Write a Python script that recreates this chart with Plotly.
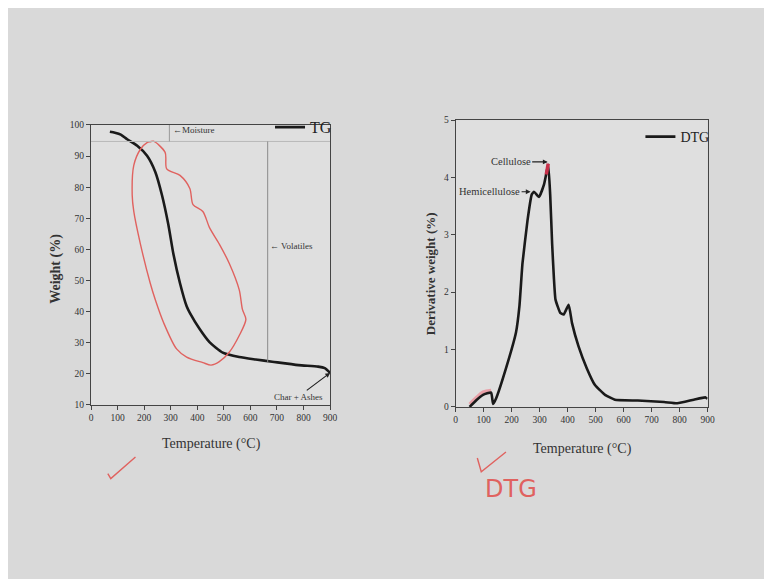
import plotly.graph_objects as go

# page is 764x579; the browser body keeps its default 8px margin
W, H = 748, 563
OFF = 8

# ---------------- data ----------------
tg_temp = [71, 90, 112, 136, 174, 211, 242, 267, 291, 310, 335, 360, 372, 409, 446, 496,
           558, 620, 682, 781, 855, 880, 900]
tg_weight = [97.8, 97.5, 96.9, 95.4, 93.3, 90.1, 84.9, 77.5, 68.0, 58.6, 49.1, 41.7, 39.6,
             34.4, 30.2, 26.8, 25.4, 24.6, 23.9, 22.8, 22.3, 21.8, 20.3]

dtg_temp = [50, 75, 98, 127, 134, 145, 180, 216, 228, 239, 257, 272, 280, 298, 316, 331,
            338, 345, 351, 357, 374, 386, 404, 416, 439, 469, 498, 534, 569, 651, 745,
            792, 851, 893, 900]
dtg_value = [0.0, 0.12, 0.21, 0.25, 0.05, 0.15, 0.67, 1.30, 1.75, 2.50, 3.25, 3.70, 3.75,
             3.66, 3.88, 4.22, 3.70, 2.84, 2.27, 1.87, 1.64, 1.61, 1.78, 1.46, 1.06, 0.67,
             0.38, 0.21, 0.125, 0.11, 0.085, 0.063, 0.125, 0.165, 0.14]

x_ticks = [0, 100, 200, 300, 400, 500, 600, 700, 800, 900]
tg_ticks = [10, 20, 30, 40, 50, 60, 70, 80, 90, 100]
dtg_ticks = [0, 1, 2, 3, 4, 5]

# hand-drawn red loop on the TG chart (data coords: temperature, weight)
loop_temp = [223, 235, 279, 285, 335, 372, 384, 421, 446, 483, 521, 558, 570, 583, 558,
             521, 483, 452, 421, 360, 322, 273, 242, 223, 186, 161, 155, 161, 186, 211, 223]
loop_weight = [94.6, 94.8, 91.2, 85.9, 83.8, 79.6, 74.4, 72.2, 67.0, 61.7, 55.4, 47.0,
               40.7, 37.5, 32.3, 27.0, 23.9, 22.8, 23.6, 25.4, 28.0, 36.5, 43.8, 49.1,
               61.7, 72.2, 77.5, 87.0, 92.2, 94.3, 94.6]

# red highlight strokes on the DTG curve
hl1_temp = [50, 75, 98, 127]
hl1_value = [0.05, 0.17, 0.26, 0.29]
hl2_temp = [324, 331]
hl2_value = [4.05, 4.24]

SERIF = "Liberation Serif, Times New Roman, serif"
RED = "#e0625f"
BG = "#d9d9d9"


def px(x):
    return (x - OFF) / W


def py(y):
    return 1 - (y - OFF) / H


fig = go.Figure()

fig.add_trace(go.Scatter(x=tg_temp, y=tg_weight, mode="lines", name="TG",
                         line=dict(color="#1a1a1a", width=2.6, shape="spline", smoothing=0.6),
                         xaxis="x", yaxis="y", legend="legend"))
fig.add_trace(go.Scatter(x=loop_temp, y=loop_weight, mode="lines", showlegend=False,
                         line=dict(color=RED, width=1.4, shape="spline", smoothing=0.8),
                         xaxis="x", yaxis="y", hoverinfo="skip"))
fig.add_trace(go.Scatter(x=hl1_temp, y=hl1_value, mode="lines", showlegend=False,
                         line=dict(color="#e8a0a8", width=3, shape="spline"),
                         xaxis="x2", yaxis="y2", hoverinfo="skip"))
fig.add_trace(go.Scatter(x=dtg_temp, y=dtg_value, mode="lines", name="DTG",
                         line=dict(color="#1a1a1a", width=2.6, shape="spline", smoothing=0.4),
                         xaxis="x2", yaxis="y2", legend="legend2"))
fig.add_trace(go.Scatter(x=hl2_temp, y=hl2_value, mode="lines", showlegend=False,
                         line=dict(color="#c8304a", width=3.5),
                         xaxis="x2", yaxis="y2", hoverinfo="skip"))

axis_common = dict(showline=True, mirror=True, linecolor="#444", linewidth=1,
                   ticks="outside", ticklen=4, tickcolor="#444", showgrid=False,
                   zeroline=False, tickfont=dict(family=SERIF, size=9.5, color="#333"))

fig.update_layout(
    width=W, height=H, autosize=False,
    margin=dict(l=0, r=0, t=0, b=0),
    paper_bgcolor=BG,
    plot_bgcolor="#dfdfdf",
    font=dict(family=SERIF, color="#222"),
    xaxis=dict(domain=[px(90), px(332)], range=[0, 900], tickvals=x_ticks,
               anchor="y", **axis_common),
    yaxis=dict(domain=[py(407), py(122)], range=[10, 100], tickvals=tg_ticks,
               anchor="x", **axis_common),
    xaxis2=dict(domain=[px(459), px(714)], range=[0, 900], tickvals=x_ticks,
                anchor="y2", **axis_common),
    yaxis2=dict(domain=[py(409), py(117)], range=[0, 5], tickvals=dtg_ticks,
                anchor="x2", **axis_common),
    legend=dict(x=px(339), y=py(107), xanchor="right", yanchor="top",
                bgcolor="rgba(0,0,0,0)", font=dict(family=SERIF, size=16, color="#222"),
                itemwidth=30, tracegroupgap=0),
    legend2=dict(x=px(721), y=py(118), xanchor="right", yanchor="top",
                 bgcolor="rgba(0,0,0,0)", font=dict(family=SERIF, size=14, color="#222"),
                 itemwidth=30, tracegroupgap=0),
)

shapes = [
    # TG helper lines
    dict(type="line", xref="x", yref="y", x0=0, x1=900, y0=94.7, y1=94.7,
         line=dict(color="#b8b8b8", width=1)),
    dict(type="line", xref="x", yref="y", x0=295, x1=295, y0=94.7, y1=100,
         line=dict(color="#9a9a9a", width=1)),
    dict(type="line", xref="x", yref="y", x0=665, x1=665, y0=23.5, y1=94.7,
         line=dict(color="#8a8a8a", width=1)),
    # red check marks
    dict(type="path", xref="paper", yref="paper",
         path=f"M {px(107)} {py(477)} L {px(110)} {py(482)} L {px(135)} {py(460)}",
         line=dict(color=RED, width=1.4)),
    dict(type="path", xref="paper", yref="paper",
         path=f"M {px(481)} {py(461)} L {px(485)} {py(475)} L {px(510)} {py(455)}",
         line=dict(color=RED, width=1.4)),
]
fig.update_layout(shapes=shapes)

ann = [
    dict(text="<b>Weight (%)</b>", x=px(55), y=py(268), textangle=-90,
         font=dict(family=SERIF, size=14, color="#333")),
    dict(text="Temperature (°C)", x=px(212), y=py(447),
         font=dict(family=SERIF, size=14, color="#333")),
    dict(text="<b>Derivative weight (%)</b>", x=px(433), y=py(273), textangle=-90,
         font=dict(family=SERIF, size=13, color="#333")),
    dict(text="Temperature (°C)", x=px(587), y=py(452),
         font=dict(family=SERIF, size=14, color="#333")),
    dict(text="DTG", x=px(515), y=py(493),
         font=dict(family="DejaVu Sans, sans-serif", size=24, color=RED)),
]
for a in ann:
    a.update(xref="paper", yref="paper", showarrow=False, xanchor="center", yanchor="middle")

data_ann = [
    dict(text="←Moisture", x=300, y=98.5, xref="x", yref="y", xanchor="left",
         showarrow=False, font=dict(family=SERIF, size=9, color="#333")),
    dict(text="← Volatiles", x=667, y=61, xref="x", yref="y", xanchor="left",
         showarrow=False, font=dict(family=SERIF, size=9, color="#333")),
    dict(text="Char + Ashes", x=900, y=20.3, xref="x", yref="y", showarrow=True,
         arrowhead=2, arrowsize=0.8, arrowwidth=1.2, arrowcolor="#222", ax=-32, ay=24,
         font=dict(family=SERIF, size=9, color="#333")),
    dict(text="Cellulose", x=329, y=4.27, xref="x2", yref="y2", showarrow=True,
         arrowhead=2, arrowsize=0.8, arrowwidth=1.2, arrowcolor="#222", ax=-37, ay=0,
         font=dict(family=SERIF, size=10.5, color="#333")),
    dict(text="Hemicellulose", x=268, y=3.75, xref="x2", yref="y2", showarrow=True,
         arrowhead=2, arrowsize=0.8, arrowwidth=1.2, arrowcolor="#222", ax=-41, ay=0,
         font=dict(family=SERIF, size=10.5, color="#333")),
]
fig.update_layout(annotations=ann + data_ann)

page_bg = (
    "document.documentElement.style.background="
    "'linear-gradient(#ffffff,#ffffff) top left/100% 8px no-repeat,"
    "linear-gradient(#ffffff,#ffffff) top left/8px 100% no-repeat," + BG + "';"
    "document.body.style.background='transparent';"
)

fig.write_html(
    "out.html",
    config={"responsive": False, "displayModeBar": False},
    post_script=page_bg,
)
